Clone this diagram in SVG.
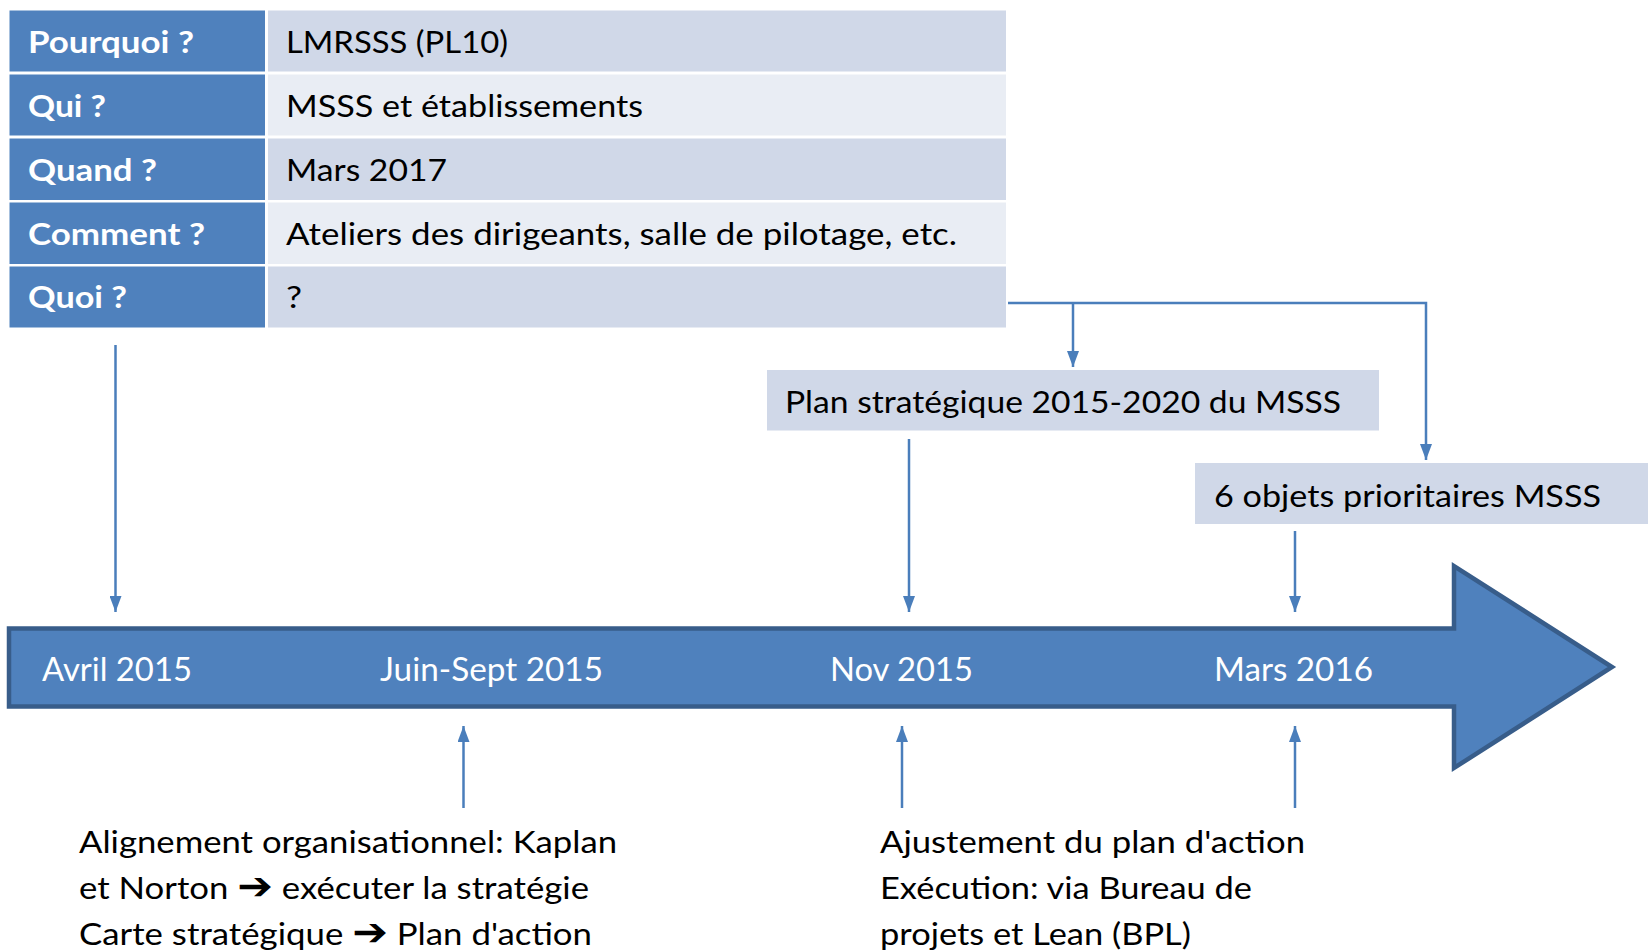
<svg xmlns="http://www.w3.org/2000/svg" width="1648" height="951" viewBox="0 0 1648 951">
<defs>
<style>
.hd{fill:#4F81BD}
.c1{fill:#D0D8E8}
.c2{fill:#E9EDF4}
.tw{font-family:Lato,"Open Sans",sans-serif;font-size:31px;fill:#FFFFFF;font-weight:bold}
.tb{font-family:Lato,"Open Sans",sans-serif;font-size:31px;fill:#000000}
.tl{font-family:Lato,"Open Sans",sans-serif;font-size:32px;fill:#FFFFFF}
.con{fill:none;stroke:#4A7EBB;stroke-width:2.5}
.arr{font-family:"DejaVu Sans",sans-serif;font-weight:bold;font-size:38px}
</style>
<marker id="ah" viewBox="0 0 16 12" refX="16" refY="6" markerWidth="16" markerHeight="12" markerUnits="userSpaceOnUse" orient="auto">
<path d="M0,0 L16,6 L0,12 z" fill="#4A7EBB"/>
</marker>
</defs>
<rect width="1648" height="951" fill="#FFFFFF"/>

<g id="table">
<g id="row-pourquoi">
<rect class="hd" x="9.5" y="10.5" width="255.5" height="61"/>
<rect class="c1" x="268" y="10.5" width="738" height="61"/>
<text class="tw" x="28" y="53" textLength="166" lengthAdjust="spacingAndGlyphs">Pourquoi ?</text>
<text class="tb" x="286" y="53" textLength="222" lengthAdjust="spacingAndGlyphs">LMRSSS (PL10)</text>
</g>
<g id="row-qui">
<rect class="hd" x="9.5" y="74.5" width="255.5" height="61"/>
<rect class="c2" x="268" y="74.5" width="738" height="61"/>
<text class="tw" x="28" y="117" textLength="78" lengthAdjust="spacingAndGlyphs">Qui ?</text>
<text class="tb" x="286" y="117" textLength="357" lengthAdjust="spacingAndGlyphs">MSSS et établissements</text>
</g>
<g id="row-quand">
<rect class="hd" x="9.5" y="138.5" width="255.5" height="61.5"/>
<rect class="c1" x="268" y="138.5" width="738" height="61.5"/>
<text class="tw" x="28" y="181" textLength="129" lengthAdjust="spacingAndGlyphs">Quand ?</text>
<text class="tb" x="286" y="181" textLength="161" lengthAdjust="spacingAndGlyphs">Mars 2017</text>
</g>
<g id="row-comment">
<rect class="hd" x="9.5" y="202.5" width="255.5" height="61.5"/>
<rect class="c2" x="268" y="202.5" width="738" height="61.5"/>
<text class="tw" x="28" y="245" textLength="177" lengthAdjust="spacingAndGlyphs">Comment ?</text>
<text class="tb" x="286" y="245" textLength="671" lengthAdjust="spacingAndGlyphs">Ateliers des dirigeants, salle de pilotage, etc.</text>
</g>
<g id="row-quoi">
<rect class="hd" x="9.5" y="266.5" width="255.5" height="61"/>
<rect class="c1" x="268" y="266.5" width="738" height="61"/>
<text class="tw" x="28" y="308" textLength="99" lengthAdjust="spacingAndGlyphs">Quoi ?</text>
<text class="tb" x="286" y="308" textLength="16" lengthAdjust="spacingAndGlyphs">?</text>
</g>
</g>

<g id="plan-strategique">
<rect class="c1" x="767" y="370" width="612" height="60.5"/>
<text class="tb" x="785" y="413" textLength="556" lengthAdjust="spacingAndGlyphs">Plan stratégique 2015-2020 du MSSS</text>
</g>

<g id="objets-prioritaires">
<rect class="c1" x="1195" y="463" width="453" height="61"/>
<text class="tb" x="1214" y="506.5" textLength="387" lengthAdjust="spacingAndGlyphs">6 objets prioritaires MSSS</text>
</g>

<g id="timeline">
<path d="M9,628.5 L1454,628.5 L1454,566 L1612,667 L1454,768 L1454,706.5 L9,706.5 Z" fill="#4F81BD" stroke="#385D8A" stroke-width="4.5" stroke-linejoin="miter"/>
<text class="tl" x="42" y="681" textLength="150" lengthAdjust="spacingAndGlyphs">Avril 2015</text>
<text class="tl" x="380" y="681" textLength="223" lengthAdjust="spacingAndGlyphs">Juin-Sept 2015</text>
<text class="tl" x="830" y="681" textLength="143" lengthAdjust="spacingAndGlyphs">Nov 2015</text>
<text class="tl" x="1214" y="681" textLength="159" lengthAdjust="spacingAndGlyphs">Mars 2016</text>
</g>

<g id="note-alignement">
<text class="tb" x="79" y="853" textLength="538" lengthAdjust="spacingAndGlyphs">Alignement organisationnel: Kaplan</text>
<text class="tb" x="79" y="899" textLength="510" lengthAdjust="spacingAndGlyphs">et Norton <tspan class="arr">➔</tspan> exécuter la stratégie</text>
<text class="tb" x="79" y="945" textLength="513" lengthAdjust="spacingAndGlyphs">Carte stratégique <tspan class="arr">➔</tspan> Plan d'action</text>
</g>

<g id="note-ajustement">
<text class="tb" x="880" y="853" textLength="425" lengthAdjust="spacingAndGlyphs">Ajustement du plan d'action</text>
<text class="tb" x="880" y="899" textLength="372" lengthAdjust="spacingAndGlyphs">Exécution: via Bureau de</text>
<text class="tb" x="880" y="945" textLength="311" lengthAdjust="spacingAndGlyphs">projets et Lean (BPL)</text>
</g>

<g id="connectors">
<path class="con" d="M1008,303 L1426,303 L1426,460" marker-end="url(#ah)"/>
<path class="con" d="M1073,303 L1073,367" marker-end="url(#ah)"/>
<path class="con" d="M115.5,345 L115.5,612" marker-end="url(#ah)"/>
<path class="con" d="M909,439 L909,612" marker-end="url(#ah)"/>
<path class="con" d="M1295,531 L1295,612" marker-end="url(#ah)"/>
<path class="con" d="M463.5,808 L463.5,726" marker-end="url(#ah)"/>
<path class="con" d="M902,808 L902,726" marker-end="url(#ah)"/>
<path class="con" d="M1295,808 L1295,726" marker-end="url(#ah)"/>
</g>
</svg>
